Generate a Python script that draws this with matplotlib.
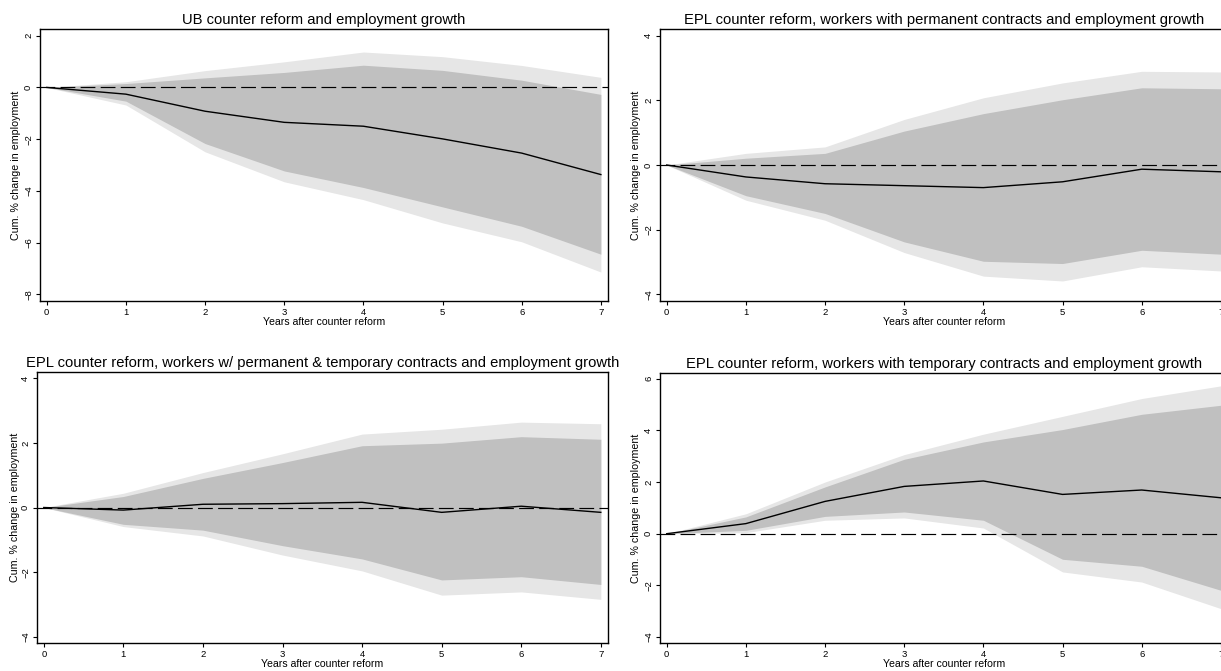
import matplotlib
matplotlib.use('Agg')
import matplotlib.pyplot as plt
import numpy as np

plt.rcParams['font.family'] = ['Liberation Sans', 'DejaVu Sans']

years = [0, 1, 2, 3, 4, 5, 6, 7]

# UB counter reform
ub_est = [0, -0.26, -0.92, -1.35, -1.50, -1.99, -2.54, -3.37]
ub_in_lo = [0, -0.53, -2.17, -3.23, -3.87, -4.62, -5.37, -6.45]
ub_in_hi = [0, 0.15, 0.37, 0.58, 0.86, 0.66, 0.28, -0.27]
ub_out_lo = [0, -0.68, -2.49, -3.65, -4.34, -5.24, -5.97, -7.14]
ub_out_hi = [0, 0.22, 0.65, 0.99, 1.37, 1.19, 0.85, 0.39]

# EPL, permanent contracts
perm_est = [0, -0.37, -0.58, -0.64, -0.70, -0.52, -0.13, -0.21]
perm_in_lo = [0, -0.95, -1.50, -2.38, -2.98, -3.05, -2.64, -2.76]
perm_in_hi = [0, 0.21, 0.36, 1.05, 1.59, 2.02, 2.39, 2.36]
perm_out_lo = [0, -1.09, -1.71, -2.71, -3.44, -3.59, -3.15, -3.28]
perm_out_hi = [0, 0.36, 0.56, 1.41, 2.08, 2.54, 2.90, 2.88]

# EPL, permanent & temporary contracts
both_est = [0, -0.08, 0.10, 0.12, 0.16, -0.15, 0.04, -0.15]
both_in_lo = [0, -0.52, -0.70, -1.18, -1.59, -2.24, -2.14, -2.38]
both_in_hi = [0, 0.34, 0.90, 1.39, 1.91, 1.99, 2.19, 2.11]
both_out_lo = [0, -0.59, -0.88, -1.47, -1.96, -2.71, -2.61, -2.84]
both_out_hi = [0, 0.44, 1.08, 1.66, 2.27, 2.42, 2.64, 2.59]

# EPL, temporary contracts
temp_est = [0, 0.39, 1.25, 1.83, 2.04, 1.52, 1.69, 1.39]
temp_in_lo = [0, 0.13, 0.67, 0.84, 0.52, -0.99, -1.26, -2.19]
temp_in_hi = [0, 0.65, 1.81, 2.88, 3.55, 4.03, 4.62, 4.97]
temp_out_lo = [0, 0.04, 0.52, 0.61, 0.22, -1.48, -1.87, -2.90]
temp_out_hi = [0, 0.77, 2.00, 3.06, 3.85, 4.54, 5.23, 5.72]

titles = [
    'UB counter reform and employment growth',
    'EPL counter reform, workers with permanent contracts and employment growth',
    'EPL counter reform, workers w/ permanent & temporary contracts and employment growth',
    'EPL counter reform, workers with temporary contracts and employment growth',
]
yticks_list = [[-8, -6, -4, -2, 0, 2], [-4, -2, 0, 2, 4], [-4, -2, 0, 2, 4], [-4, -2, 0, 2, 4, 6]]
ylims = [(-8.26, 2.26), (-4.21, 4.21), (-4.19, 4.19), (-4.23, 6.23)]

panels = [
    (ub_est, ub_in_lo, ub_in_hi, ub_out_lo, ub_out_hi),
    (perm_est, perm_in_lo, perm_in_hi, perm_out_lo, perm_out_hi),
    (both_est, both_in_lo, both_in_hi, both_out_lo, both_out_hi),
    (temp_est, temp_in_lo, temp_in_hi, temp_out_lo, temp_out_hi),
]

W, H = 1221, 671
# axes boxes in pixels: left, top, width, height (right column runs past the edge, as in the source)
boxes = [(40, 29, 568, 272), (660, 29, 568, 272), (37, 372, 571, 271), (660, 372.7, 568, 270.3)]
ylab_x = [-0.033, -0.034, -0.030, -0.034]

fig = plt.figure(figsize=(12.21, 6.71), dpi=100)

for i, (est, in_lo, in_hi, out_lo, out_hi) in enumerate(panels):
    l, t, w, h = boxes[i]
    ax = fig.add_axes([l / W, (H - t - h) / H, w / W, h / H])
    ax.fill_between(years, out_lo, out_hi, color='#e6e6e6', lw=0, zorder=1)
    ax.fill_between(years, in_lo, in_hi, color='#c0c0c0', lw=0, zorder=2)
    ax.axhline(0, color='black', lw=0.85, linestyle=(0, (12.5, 4.5)), zorder=3)
    ax.plot(years, est, color='black', lw=1.0, zorder=4)
    ax.set_xlim(-0.085, 7.09)
    ax.set_ylim(*ylims[i])
    ax.set_xticks(years)
    ax.set_yticks(yticks_list[i])
    ax.tick_params(axis='both', labelsize=6.8, length=3, width=0.8, pad=2)
    plt.setp(ax.get_yticklabels(), rotation=90, va='center')
    for s in ax.spines.values():
        s.set_linewidth(1.0)
    ax.set_title(titles[i], fontsize=10.65, pad=3.5)
    ax.set_xlabel('Years after counter reform', fontsize=7.6)
    ax.set_ylabel('Cum. % change in employment', fontsize=7.7)
    ax.xaxis.set_label_coords(0.5, -0.058)
    ax.yaxis.set_label_coords(ylab_x[i], 0.5)

fig.savefig('out.png', dpi=100)
